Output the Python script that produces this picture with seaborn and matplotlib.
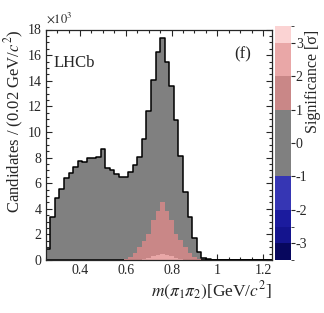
import numpy as np
import pandas as pd
import matplotlib
matplotlib.use("Agg")
import matplotlib.pyplot as plt
import seaborn as sns
from matplotlib.colors import ListedColormap, BoundaryNorm
from matplotlib.cm import ScalarMappable
from matplotlib.ticker import MultipleLocator

# bins of 0.02 GeV/c^2 from 0.25 to 1.25, counts in units of 10^3
bin_edges = np.round(np.arange(0.25, 1.2501, 0.02), 2)
centers = (bin_edges[:-1] + bin_edges[1:]) / 2

total = [0.84, 3.35, 4.85, 5.55, 6.4, 6.8, 7.3, 7.72, 7.65, 7.95,
         8.0, 8.05, 8.65, 7.2, 7.0, 6.7, 6.47, 6.47, 6.85, 7.38,
         8.05, 9.45, 11.6, 14.05, 16.26, 17.3, 15.5, 13.6, 10.9, 8.1,
         5.33, 3.38, 1.69, 0.62, 0.15, 0.05, 0.02, 0, 0, 0,
         0, 0, 0, 0, 0, 0, 0, 0, 0, 0]
sig1 = [0, 0, 0, 0, 0, 0, 0, 0, 0, 0,
        0, 0, 0, 0, 0, 0, 0.02, 0.1, 0.26, 0.57,
        0.99, 1.5, 2.03, 3.12, 3.85, 4.55, 3.85, 3.12, 2.03, 1.56,
        1.04, 0.52, 0.2, 0.05, 0, 0, 0, 0, 0, 0,
        0, 0, 0, 0, 0, 0, 0, 0, 0, 0]
sig2 = [0, 0, 0, 0, 0, 0, 0, 0, 0, 0,
        0, 0, 0, 0, 0, 0, 0, 0, 0, 0,
        0, 0.05, 0.15, 0.28, 0.38, 0.45, 0.42, 0.32, 0.18, 0.07,
        0.02, 0, 0, 0, 0, 0, 0, 0, 0, 0,
        0, 0, 0, 0, 0, 0, 0, 0, 0, 0]

# colour scale of the significance bar
sig_bounds = [-3.5, -3, -2.5, -2, -1, 1, 2, 3, 3.5]
sig_colors = ["#07075e", "#14148e", "#1b1b9e", "#3636b4",
              "#808080", "#c98787", "#e9a7a7", "#fbd3d3"]
sig_ticks = [-3, -2, -1, 0, 1, 2, 3]

df = pd.DataFrame({"m": centers, "total": total, "sig1": sig1, "sig2": sig2})
bins = bin_edges.tolist()

sns.set_style("ticks")
plt.rcParams['font.family'] = ['Liberation Serif', 'DejaVu Serif']
plt.rcParams['mathtext.fontset'] = 'stix'

fig = plt.figure(figsize=(3.24, 3.13), dpi=100)
ax = fig.add_axes([45.7 / 324, 1 - 260 / 313, 226.6 / 324, 230.5 / 313])
cax = fig.add_axes([275 / 324, 1 - 260 / 313, 16 / 324, 234 / 313])

sns.histplot(data=df, x="m", weights="total", bins=bins, element="step",
             fill=True, color="#808080", alpha=1, edgecolor="black",
             linewidth=1.1, ax=ax)
sns.histplot(data=df, x="m", weights="sig1", bins=bins, element="step",
             fill=True, color=sig_colors[5], alpha=1, linewidth=0, ax=ax)
sns.histplot(data=df, x="m", weights="sig2", bins=bins, element="step",
             fill=True, color=sig_colors[6], alpha=1, linewidth=0, ax=ax)

ax.set_xlim(0.25, 1.24)
ax.set_ylim(0, 18)
ax.xaxis.set_minor_locator(MultipleLocator(0.05))
ax.yaxis.set_major_locator(MultipleLocator(2))
ax.yaxis.set_minor_locator(MultipleLocator(0.5))
ax.set_xticks([0.4, 0.6, 0.8, 1.0, 1.2])
ax.set_xticklabels(["0.4", "0.6", "0.8", "1", "1.2"])
ax.tick_params(which="both", direction="in", top=True, right=True,
               labelsize=10, pad=3)
ax.tick_params(which="major", length=4.5, width=0.8)
ax.tick_params(which="minor", length=2.3, width=0.8)
for s in ax.spines.values():
    s.set_linewidth(0.9)

ax.set_xlabel(r"$m(\pi_1\pi_2)$[GeV/$c^2$]", fontsize=12.5, loc="right",
              labelpad=2)
ax.set_ylabel(r"Candidates / (0.02 GeV/$c^2$)", fontsize=12, loc="top",
              labelpad=1)
ax.text(0.0, 1.015, r"$\times10^3$", transform=ax.transAxes, fontsize=9,
        ha="left", va="bottom")
ax.text(0.035, 0.855, "LHCb", transform=ax.transAxes, fontsize=12,
        va="center")
ax.text(0.83, 0.89, "(f)", transform=ax.transAxes, fontsize=12,
        va="center")

cmap = ListedColormap(sig_colors)
norm = BoundaryNorm(sig_bounds, cmap.N)
cb = fig.colorbar(ScalarMappable(norm=norm, cmap=cmap), cax=cax,
                  ticks=sig_ticks, spacing="proportional")
cb.outline.set_linewidth(0)
cb.ax.set_yticklabels([str(t) for t in sig_ticks])
cb.ax.tick_params(labelsize=10, length=3, width=0.8, pad=0.5)
cb.ax.set_ylabel("Significance [σ]", fontsize=11.5, loc="top")
cb.ax.yaxis.set_label_coords(1.85, 0.985)

fig.savefig("out.png", dpi=100)
